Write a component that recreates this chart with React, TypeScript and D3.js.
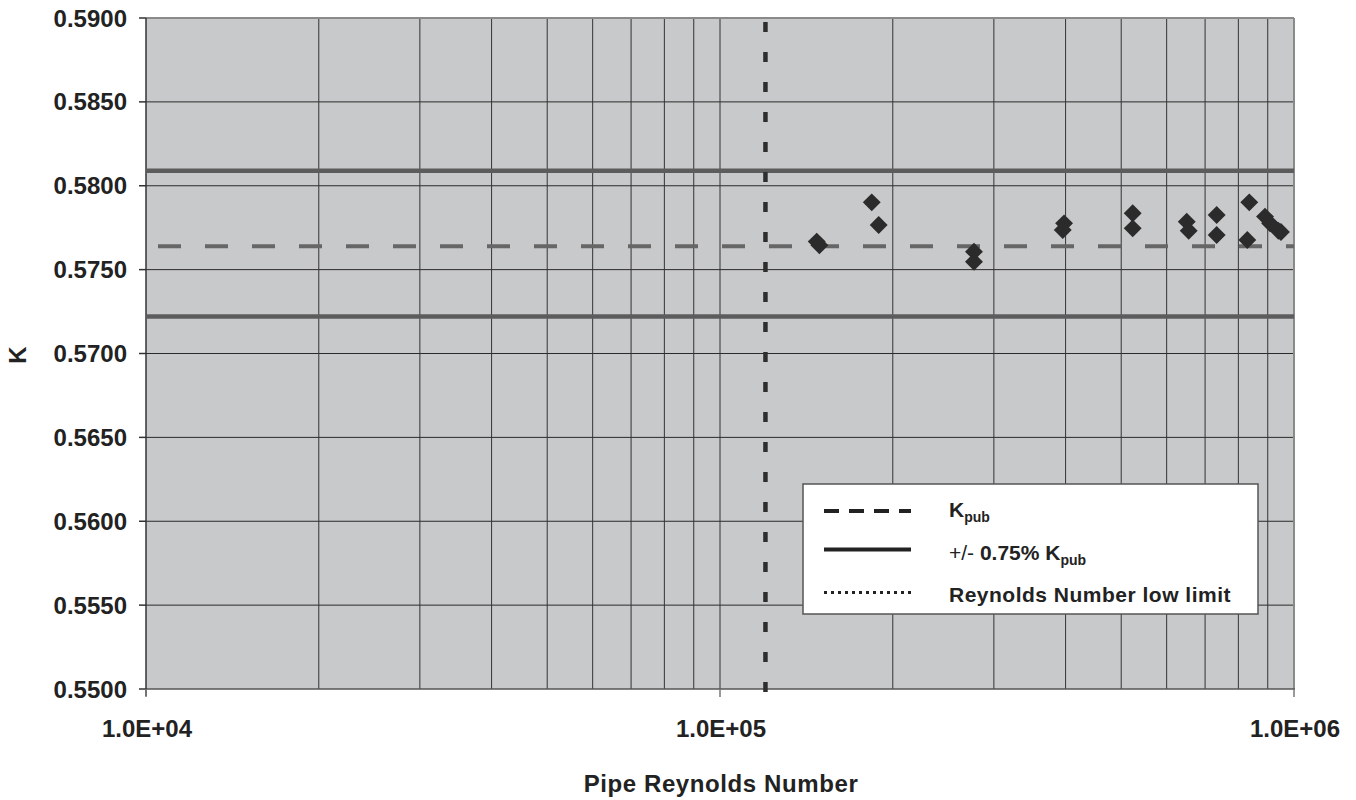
import React from "react";
import * as d3 from "d3";

// data
const reynolds = [147400, 149000, 183800, 189000, 277000, 277000, 397600, 395500, 523600, 523600, 650300, 655500, 733300, 733300, 835800, 829200, 890300, 908400, 939100, 949000];
const kValues = [0.57667, 0.57645, 0.57901, 0.57766, 0.57607, 0.57547, 0.57776, 0.57736, 0.57836, 0.57746, 0.57786, 0.57732, 0.57826, 0.57706, 0.57901, 0.57677, 0.57816, 0.57776, 0.57732, 0.57724];
const kPub = 0.5764;
const kUpper = 0.5809;
const kLower = 0.5722;
const reLowLimit = 120000;
const yTickValues = [0.55, 0.555, 0.56, 0.565, 0.57, 0.575, 0.58, 0.585, 0.59];
const xTickValues = [1e4, 1e5, 1e6];
const xTickLabels = ["1.0E+04", "1.0E+05", "1.0E+06"];

const W = 1356;
const H = 800;
const margin = { top: 18, right: 62, bottom: 111, left: 146 };
const font = "'Liberation Sans', Arial, sans-serif";

const App = () => {
    const x = d3.scaleLog().domain([1e4, 1e6]).range([margin.left, W - margin.right]);
    const y = d3.scaleLinear().domain([0.55, 0.59]).range([H - margin.bottom, margin.top]);
    const [x0, x1] = x.range();
    const [y0, y1] = y.range();
    const gridX = x.ticks().filter(v => v > 1e4 && v < 1e6);
    const diamond = d3.symbol(d3.symbolSquare, 160)();

    const lx = 803, ly = 484, lw = 455, lh = 130;

    return (
        <svg width={W} height={H} style={{ position: "absolute", left: 0, top: 0, background: "#fff" }} fontFamily={font}>
            <rect x={x0} y={y1} width={x1 - x0} height={y0 - y1} fill="#c8c9cb" />
            {yTickValues.filter(v => v > 0.55 && v < 0.59).map(v =>
                <line key={"gy" + v} x1={x0} x2={x1} y1={y(v)} y2={y(v)} stroke="#2a2a2a" strokeWidth={1} />
            )}
            {gridX.map(v =>
                <line key={"gx" + v} x1={x(v)} x2={x(v)} y1={y1} y2={y0} stroke="#333" strokeWidth={1} />
            )}
            {/* plot border */}
            <line x1={x0} x2={x1} y1={y1} y2={y1} stroke="#8a8a8a" strokeWidth={2} />
            <line x1={x1} x2={x1} y1={y1} y2={y0} stroke="#8a8a8a" strokeWidth={2} />
            <line x1={x0} x2={x1 + 1} y1={y0} y2={y0} stroke="#555" strokeWidth={1.5} />
            <line x1={x0} x2={x0} y1={y1} y2={y0 + 7} stroke="#333" strokeWidth={1.5} />
            {yTickValues.map(v =>
                <g key={"ty" + v}>
                    <line x1={x0 - 7} x2={x0} y1={y(v)} y2={y(v)} stroke="#333" strokeWidth={1.5} />
                    <text x={127} y={y(v) + 8.5} textAnchor="end" fontSize={24} fontWeight="bold" fill="#222">{v.toFixed(4)}</text>
                </g>
            )}
            {xTickValues.map((v, i) =>
                <g key={"tx" + v}>
                    <line x1={x(v)} x2={x(v)} y1={y0} y2={y0 + 8} stroke="#777" strokeWidth={1.5} />
                    <text x={x(v) + 1} y={737} textAnchor="middle" fontSize={24} fontWeight="bold" fill="#222">{xTickLabels[i]}</text>
                </g>
            )}
            {/* reference lines */}
            <line x1={x0} x2={x1} y1={y(kUpper)} y2={y(kUpper)} stroke="#5c5c5c" strokeWidth={4.5} />
            <line x1={x0} x2={x1} y1={y(kLower)} y2={y(kLower)} stroke="#5c5c5c" strokeWidth={4.5} />
            <line x1={x0 + 12} x2={x1} y1={y(kPub)} y2={y(kPub)} stroke="#666" strokeWidth={4} strokeDasharray="23,24" />
            <line x1={x(reLowLimit)} x2={x(reLowLimit)} y1={y1} y2={y0 + 8} stroke="#2e2e2e" strokeWidth={4.5} strokeDasharray="10,20" strokeDashoffset={-4} />
            {/* data points */}
            {reynolds.map((r, i) =>
                <path key={"p" + i} d={diamond || ""} transform={`translate(${x(r)},${y(kValues[i])}) rotate(45)`} fill="#2b2b2b" />
            )}
            {/* legend */}
            <rect x={lx} y={ly} width={lw} height={lh} fill="#fff" stroke="#555" strokeWidth={1.5} />
            <line x1={824} x2={911} y1={511} y2={511} stroke="#222" strokeWidth={4} strokeDasharray="15,10" />
            <line x1={824} x2={911} y1={549.5} y2={549.5} stroke="#222" strokeWidth={4} />
            <line x1={824} x2={911} y1={592.5} y2={592.5} stroke="#222" strokeWidth={3} strokeDasharray="3,4" />
            <text x={949} y={517} fontSize={21} fontWeight="bold" fill="#222">K<tspan fontSize={14} dy={5}>pub</tspan></text>
            <text x={949} y={560} fontSize={21} fill="#222"><tspan fontWeight="normal">+/-</tspan><tspan fontWeight="bold"> 0.75% K</tspan><tspan fontWeight="bold" fontSize={14} dy={5}>pub</tspan></text>
            <text x={949} y={602} fontSize={21} fontWeight="bold" fill="#222" letterSpacing={0.5}>Reynolds Number low limit</text>
            {/* axis titles */}
            <text x={721} y={792} textAnchor="middle" fontSize={24} fontWeight="bold" fill="#222" letterSpacing={0.6}>Pipe Reynolds Number</text>
            <text transform="translate(26,355) rotate(-90)" textAnchor="middle" fontSize={24} fontWeight="bold" fill="#222">K</text>
        </svg>
    );
};

export default App;
